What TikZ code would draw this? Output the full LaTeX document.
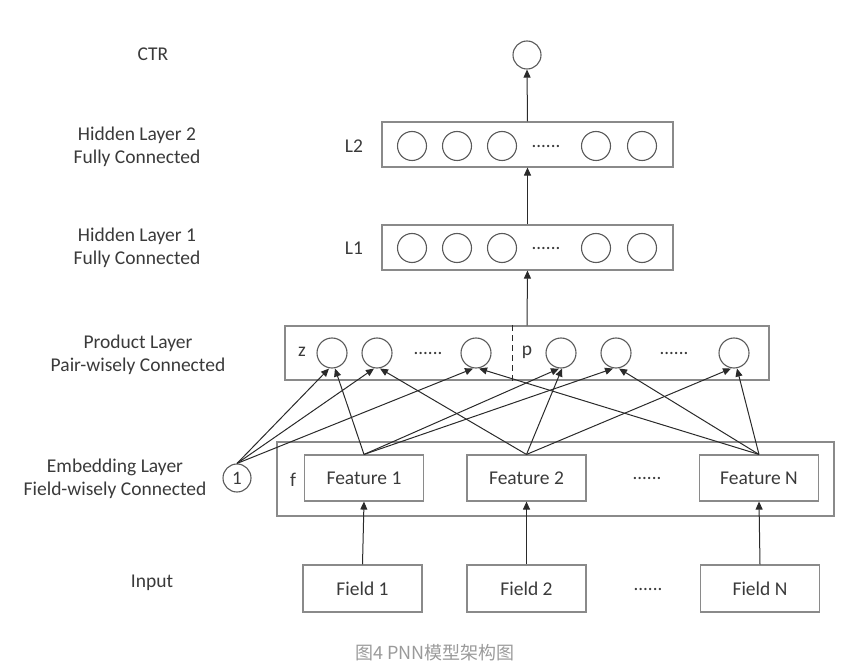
\documentclass[tikz,border=0pt]{standalone}
\usepackage{fontspec}
\setmainfont{Carlito}
\newfontfamily\cjk{Noto Sans CJK SC}
\usetikzlibrary{arrows.meta}
\definecolor{txt}{HTML}{3A3A3A}
\definecolor{boxc}{HTML}{8A8A8A}
\definecolor{circc}{HTML}{5A5A5A}
\definecolor{arrc}{HTML}{2A2A2A}
\definecolor{capc}{HTML}{9A9A9A}
\begin{document}
\begin{tikzpicture}[x=1pt,y=-1pt,
  lbl/.style={font=\fontsize{19.5}{23}\selectfont, text=txt, inner sep=0pt, align=center},
  layerbox/.style={draw=boxc, line width=1.1pt, inner sep=0pt},
  unit/.style={circle, draw=circc, line width=1.1pt, minimum size=29pt, inner sep=0pt},
  featbox/.style={draw=boxc, line width=1.1pt, minimum width=119pt, minimum height=46pt, inner sep=0pt,
    font=\fontsize{19.5}{22}\selectfont, text=txt},
  conn/.style={draw=arrc, line width=1pt, -{Triangle[length=8pt,width=7pt]}},
  dotsn/.style={font=\fontsize{19}{22}\selectfont, text=txt, inner sep=0pt}
]
\useasboundingbox (0,0) rectangle (854,668);

% ---- left labels ----
\node[lbl] (lctr) at (153,54) {CTR};
\node[lbl] (lh2) at (137,147) {Hidden Layer 2\\Fully Connected};
\node[lbl] (lh1) at (137,248) {Hidden Layer 1\\Fully Connected};
\node[lbl] (lprod) at (138,354.5) {Product Layer\\Pair-wisely Connected};
\node[lbl] (lemb) at (115,478.5) {Embedding Layer\\Field-wisely Connected};
\node[lbl] (linp) at (152,583) {Input};

% ---- CTR ----
\node[unit, minimum size=28pt] (ctr) at (527,55) {};

% ---- Hidden layer 2 ----
\node[layerbox, minimum width=291pt, minimum height=45pt] (L2box) at (527.5,144.5) {};
\node[lbl] (l2lab) at (354,146) {L2};
\foreach \n/\x in {a/412,b/457,c/502,d/596,e/642}{
  \node[unit] (h2\n) at (\x,146) {};
}
\node[dotsn] (h2dots) at (546,146) {......};

% ---- Hidden layer 1 ----
\node[layerbox, minimum width=291pt, minimum height=45pt] (L1box) at (527.5,247.5) {};
\node[lbl] (l1lab) at (354,248) {L1};
\foreach \n/\x in {a/412,b/457,c/502,d/596,e/642}{
  \node[unit] (h1\n) at (\x,248) {};
}
\node[dotsn] (h1dots) at (546,248) {......};

% ---- Product layer ----
\node[layerbox, minimum width=484pt, minimum height=54pt] (pbox) at (527,353) {};
\draw[draw=arrc, line width=1pt, dash pattern=on 6pt off 4pt] ([xshift=-15pt]pbox.north) -- ([xshift=-15pt]pbox.south);
\node[lbl] (zlab) at (302,352) {z};
\node[lbl] (plab) at (527,352) {p};
\node[unit, minimum size=30pt] (z1) at (332,353) {};
\node[unit, minimum size=30pt] (z2) at (377,353) {};
\node[dotsn] (zdots) at (428,353) {......};
\node[unit, minimum size=30pt] (z3) at (476,353) {};
\node[unit, minimum size=30pt] (p1) at (561,353) {};
\node[unit, minimum size=30pt] (p2) at (616,353) {};
\node[dotsn] (pdots) at (674,353) {......};
\node[unit, minimum size=30pt] (p3) at (734,353) {};

% ---- Embedding layer ----
\node[layerbox, minimum width=557pt, minimum height=74pt] (ebox) at (555.5,479) {};
\node[lbl] (flab) at (293,480) {f};
\node[featbox] (f1) at (364,478) {Feature 1};
\node[featbox] (f2) at (526.5,478) {Feature 2};
\node[dotsn] (fdots) at (647,478) {......};
\node[featbox] (fN) at (759,478) {Feature N};
\node[unit, minimum size=28pt, font=\fontsize{19}{22}\selectfont, text=txt] (one) at (237,478) {1};

% ---- Input ----
\node[featbox, minimum height=47pt] (i1) at (362.5,588.5) {Field 1};
\node[featbox, minimum height=47pt] (i2) at (526.5,588.5) {Field 2};
\node[dotsn] (idots) at (648,589) {......};
\node[featbox, minimum height=47pt] (iN) at (760,588.5) {Field N};

% ---- vertical arrows ----
\draw[conn] (i1.north) -- (f1.south);
\draw[conn] (i2.north) -- (f2.south);
\draw[conn] (iN.north) -- (fN.south);
\draw[conn] (pbox.north) -- (L1box.south);
\draw[conn] (L1box.north) -- (L2box.south);
\draw[conn] (L2box.north) -- (ctr.south);

% ---- pair-wise connections ----
\draw[conn] (one.north) -- ([xshift=-3pt]z1.south);
\draw[conn] (one.north) -- ([xshift=-3pt]z2.south);
\draw[conn] (one.north) -- ([xshift=-3pt]z3.south);
\draw[conn] (f1.north) -- ([xshift=3pt]z1.south);
\draw[conn] (f1.north) -- ([xshift=-2pt]p1.south);
\draw[conn] (f1.north) -- ([xshift=-3pt]p2.south);
\draw[conn] (f2.north) -- ([xshift=3pt]z2.south);
\draw[conn] (f2.north) -- ([xshift=1pt]p1.south);
\draw[conn] (f2.north) -- ([xshift=-3pt]p3.south);
\draw[conn] (fN.north) -- ([xshift=3pt]z3.south);
\draw[conn] (fN.north) -- ([xshift=3pt]p2.south);
\draw[conn] (fN.north) -- ([xshift=3pt]p3.south);

% ---- caption ----
\node[font=\cjk\fontsize{18}{21}\selectfont, text=capc, inner sep=0pt] (cap) at (435,653) {图4 PNN模型架构图};
\end{tikzpicture}
\end{document}
